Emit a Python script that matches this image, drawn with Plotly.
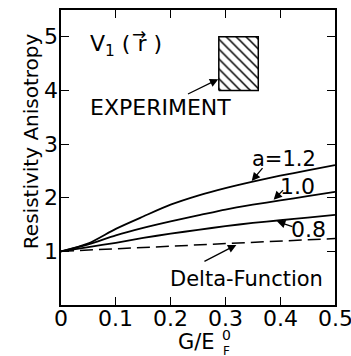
import plotly.graph_objects as go

# ---- data ----
G_OVER_EF = [0, 0.05, 0.1, 0.15, 0.2, 0.25, 0.3, 0.35, 0.4, 0.45, 0.5]
A_12 = [1.0, 1.15, 1.42, 1.65, 1.87, 2.04, 2.18, 2.30, 2.41, 2.51, 2.61]
A_10 = [1.0, 1.13, 1.30, 1.44, 1.56, 1.67, 1.78, 1.87, 1.95, 2.03, 2.11]
A_08 = [1.0, 1.08, 1.16, 1.25, 1.33, 1.40, 1.47, 1.53, 1.58, 1.63, 1.68]
DELTA_X = [0, 0.5]
DELTA_Y = [1.0, 1.24]
EXP_X = [0.288, 0.36]
EXP_Y = [4.0, 5.0]
X_TICKS = [0, 0.1, 0.2, 0.3, 0.4, 0.5]
X_TICK_TEXT = ["0", "0.1", "0.2", "0.3", "0.4", "0.5"]
Y_TICKS = [1, 2, 3, 4, 5]
Y_TICK_TEXT = ["1", "2", "3", "4", "5"]

FONT = "DejaVu Sans"
BLACK = "black"

fig = go.Figure()

for ys in (A_12, A_10, A_08):
    fig.add_trace(go.Scatter(x=G_OVER_EF, y=ys, mode="lines",
                             line=dict(color=BLACK, width=1.8, shape="spline", smoothing=0.8),
                             showlegend=False, hoverinfo="skip"))

fig.add_trace(go.Scatter(x=DELTA_X, y=DELTA_Y, mode="lines",
                         line=dict(color=BLACK, width=1.5, dash="13px,6px"),
                         showlegend=False, hoverinfo="skip"))

# hatched experimental box
bx = [EXP_X[0], EXP_X[1], EXP_X[1], EXP_X[0], EXP_X[0]]
by = [EXP_Y[0], EXP_Y[0], EXP_Y[1], EXP_Y[1], EXP_Y[0]]
fig.add_trace(go.Scatter(x=bx, y=by, mode="lines", fill="toself",
                         fillcolor="white",
                         fillpattern=dict(shape="\\", fgcolor=BLACK, bgcolor="white",
                                          fgopacity=1, size=7, solidity=0.22),
                         line=dict(color=BLACK, width=1.5),
                         showlegend=False, hoverinfo="skip"))

ann = []
def label(text, x, y, size=21, **kw):
    d = dict(text=text, x=x, y=y, xref="x", yref="y", showarrow=False,
             xanchor="center", yanchor="middle",
             font=dict(family=FONT, size=size, color=BLACK))
    d.update(kw)
    ann.append(d)

def arrow(x, y, ax, ay, head=2, size=1.3, width=1.3):
    ann.append(dict(text="", x=x, y=y, ax=ax, ay=ay, xref="x", yref="y",
                    axref="x", ayref="y", showarrow=True, arrowhead=head,
                    arrowsize=size, arrowwidth=width, arrowcolor=BLACK, standoff=0))

# curve labels
label("a=1.2", 0.407, 2.73)
arrow(0.348, 2.31, 0.370, 2.58)
label("1.0", 0.431, 2.21, size=22)
arrow(0.388, 1.96, 0.408, 2.17)
label("0.8", 0.452, 1.40, size=22)
arrow(0.394, 1.56, 0.425, 1.45)
label("Delta-Function", 0.338, 0.48)
arrow(0.320, 1.12, 0.259, 0.80)
label("EXPERIMENT", 0.181, 3.68, size=22)
arrow(0.287, 4.21, 0.229, 3.92)
label("V<sub>1</sub> ( r )", 0.118, 4.84, size=22)
label("\u2192", 0.143, 5.06, size=17)

# tick labels placed against the axes (reference puts them very close)
for v, t in zip(X_TICKS, X_TICK_TEXT):
    ann.append(dict(text=t, x=v, y=-0.046, xref="x", yref="paper", showarrow=False,
                    xanchor="center", yanchor="middle",
                    font=dict(family=FONT, size=22, color=BLACK)))
for v, t in zip(Y_TICKS, Y_TICK_TEXT):
    ann.append(dict(text=t, x=-0.004, y=v, xref="paper", yref="y", showarrow=False,
                    xanchor="right", yanchor="middle",
                    font=dict(family=FONT, size=22, color=BLACK)))

# axis titles
def ptext(text, x, y, size, **kw):
    d = dict(text=text, x=x, y=y, xref="paper", yref="paper", showarrow=False,
             xanchor="center", yanchor="middle",
             font=dict(family=FONT, size=size, color=BLACK))
    d.update(kw)
    ann.append(d)

ptext("Resistivity Anisotropy", -0.11, 0.555, 20, textangle=-90)
ptext("G/E", 0.496, -0.125, 21)
ptext("0", 0.603, -0.102, 14)
ptext("F", 0.603, -0.155, 12)

axis_common = dict(showline=True, linecolor=BLACK, linewidth=1.6, mirror="ticks",
                   ticks="inside", ticklen=8, tickwidth=1.4, tickcolor=BLACK,
                   showgrid=False, zeroline=False, showticklabels=False,
                   automargin=False)

fig.update_xaxes(range=[0, 0.5], tickvals=X_TICKS, **axis_common)
fig.update_yaxes(range=[0, 5.5], tickvals=Y_TICKS, **axis_common)

fig.update_layout(width=351, height=356, margin=dict(l=61, r=16, t=10, b=51, autoexpand=False),
                  paper_bgcolor="white", plot_bgcolor="white",
                  annotations=ann, showlegend=False)

fig.write_html("out.html", config={"displayModeBar": False},
               post_script="document.body.style.margin='0';")
